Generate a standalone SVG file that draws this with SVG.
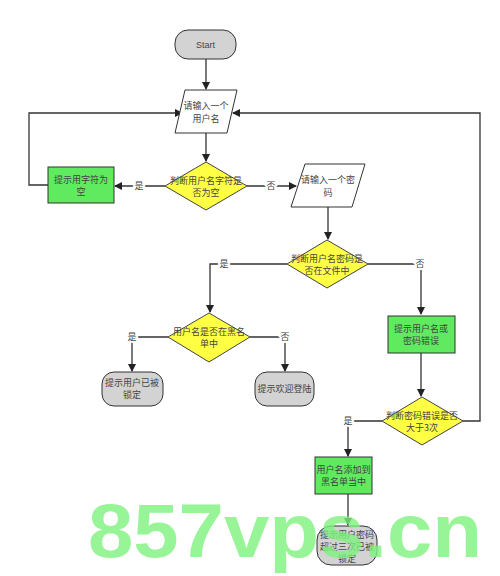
<svg xmlns="http://www.w3.org/2000/svg" width="500" height="576" viewBox="0 0 500 576">
<defs>
<marker id="ah" markerWidth="8" markerHeight="8" refX="7" refY="4" orient="auto" markerUnits="userSpaceOnUse">
<path d="M0,0 L8,4 L0,8 Z" fill="#222"/>
</marker>
<style>
.ln{fill:none;stroke:#333;stroke-width:1.3}
.t{font-family:"Noto Sans CJK SC","Liberation Serif",serif;font-size:9px;fill:#444;text-anchor:middle}
.lb{font-family:"Noto Sans CJK SC","Liberation Serif",serif;font-size:9px;fill:#444;text-anchor:middle;paint-order:stroke;stroke:#fff;stroke-width:4px}
.dia{fill:#ffff44;stroke:#444;stroke-width:1}
.grn{fill:#5fea5f;stroke:#333;stroke-width:1}
.gry{fill:#d3d3d3;stroke:#333;stroke-width:1}
.par{fill:#fff;stroke:#333;stroke-width:1}
</style>
</defs>
<rect width="500" height="576" fill="#fff"/>
<g id="connectors">
<path class="ln" d="M206,59 V89" marker-end="url(#ah)"/>
<path class="ln" d="M206,133 V161" marker-end="url(#ah)"/>
<path class="ln" d="M165,186 H115" marker-end="url(#ah)"/>
<path class="ln" d="M48,185 H29 V113 H182" marker-end="url(#ah)"/>
<path class="ln" d="M247,186 H296" marker-end="url(#ah)"/>
<path class="ln" d="M328,207 V239" marker-end="url(#ah)"/>
<path class="ln" d="M287,264 H210 V312" marker-end="url(#ah)"/>
<path class="ln" d="M368,264 H421 V314" marker-end="url(#ah)"/>
<path class="ln" d="M168,337 H132 V371" marker-end="url(#ah)"/>
<path class="ln" d="M250,337 H285 V371" marker-end="url(#ah)"/>
<path class="ln" d="M421,353 V396" marker-end="url(#ah)"/>
<path class="ln" d="M463,421 H480 V113 H233" marker-end="url(#ah)"/>
<path class="ln" d="M382,421 H348 V456" marker-end="url(#ah)"/>
<path class="ln" d="M348,494 V525" marker-end="url(#ah)"/>
<text class="lb" x="139" y="189">是</text>
<text class="lb" x="271" y="189">否</text>
<text class="lb" x="224" y="267">是</text>
<text class="lb" x="420" y="267">否</text>
<text class="lb" x="132" y="340">是</text>
<text class="lb" x="285" y="340">否</text>
<text class="lb" x="348" y="424">是</text>
</g>
<g id="start">
<rect class="gry" x="175" y="30" width="61" height="29" rx="13"/>
<text class="t" x="205.5" y="48" style="font-family:'Liberation Sans',sans-serif">Start</text>
</g>
<g id="input-username">
<polygon class="par" points="185,90 237,90 227,133 175,133"/>
<text class="t" x="206" y="109">请输入一个</text>
<text class="t" x="206" y="122">用户名</text>
</g>
<g id="check-empty">
<polygon class="dia" points="206,162 247,186 206,210 165,186"/>
<text class="t" x="206" y="184">判断用户名字符是</text>
<text class="t" x="206" y="196">否为空</text>
</g>
<g id="msg-empty">
<rect class="grn" x="48" y="167" width="66" height="36"/>
<text class="t" x="81" y="183">提示用字符为</text>
<text class="t" x="81" y="195">空</text>
</g>
<g id="input-password">
<polygon class="par" points="305,164 365,164 352,207 291,207"/>
<text class="t" x="328" y="183">请输入一个密</text>
<text class="t" x="328" y="196">码</text>
</g>
<g id="check-file">
<polygon class="dia" points="327,240 368,264 327,288 287,264"/>
<text class="t" x="327" y="262">判断用户名密码是</text>
<text class="t" x="327" y="274">否在文件中</text>
</g>
<g id="check-blacklist">
<polygon class="dia" points="209,313 250,337 209,362 168,337"/>
<text class="t" x="209" y="335">用户名是否在黑名</text>
<text class="t" x="209" y="347">单中</text>
</g>
<g id="msg-locked">
<rect class="gry" x="102" y="372" width="61" height="34" rx="12"/>
<text class="t" x="132" y="386">提示用户已被</text>
<text class="t" x="132" y="398">锁定</text>
</g>
<g id="msg-welcome">
<rect class="gry" x="255" y="372" width="59" height="34" rx="12"/>
<text class="t" x="284.5" y="392">提示欢迎登陆</text>
</g>
<g id="msg-wrong">
<rect class="grn" x="388" y="316" width="67" height="37"/>
<text class="t" x="421" y="332">提示用户名或</text>
<text class="t" x="421" y="344">密码错误</text>
</g>
<g id="check-count">
<polygon class="dia" points="422,397 463,421 422,445 382,421"/>
<text class="t" x="422" y="419">判断密码错误是否</text>
<text class="t" x="422" y="431">大于3次</text>
</g>
<g id="add-blacklist">
<rect class="grn" x="315" y="457" width="57" height="37"/>
<text class="t" x="343.5" y="473">用户名添加到</text>
<text class="t" x="343.5" y="485">黑名单当中</text>
</g>
<g id="msg-exceeded">
<rect class="gry" x="317" y="526" width="60" height="39" rx="14"/>
<text class="t" x="347" y="538">提示用户密码</text>
<text class="t" x="347" y="550">超过三次已被</text>
<text class="t" x="347" y="562">锁定</text>
</g>
<text x="88" y="557" textLength="394" lengthAdjust="spacingAndGlyphs" style="font-family:'Liberation Sans',sans-serif;font-weight:bold;font-size:76px;fill:#7ef27e;opacity:0.8">857vps.cn</text>
</svg>
